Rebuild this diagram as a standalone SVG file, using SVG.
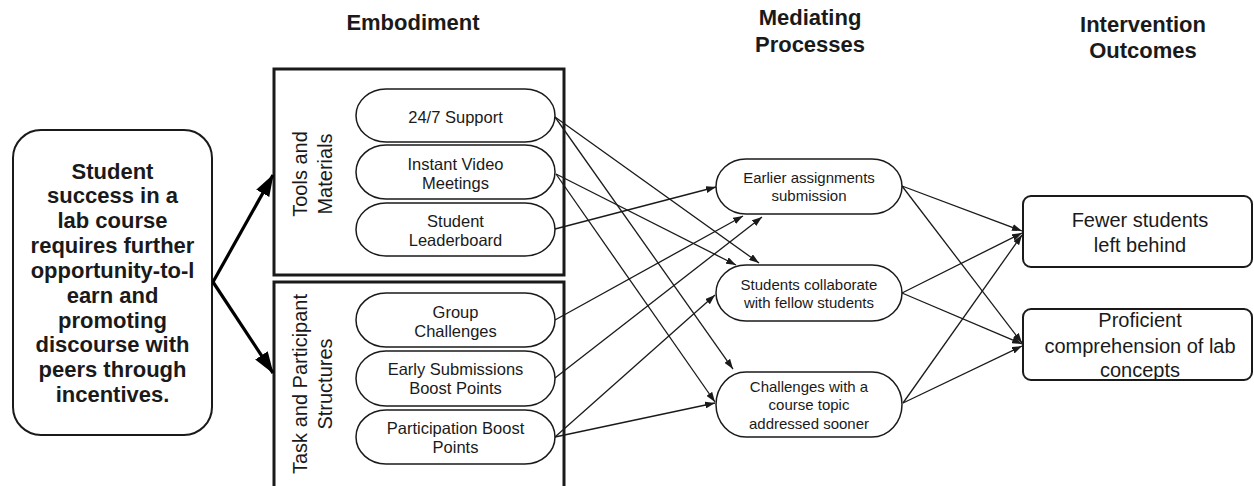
<svg xmlns="http://www.w3.org/2000/svg" width="1254" height="486" viewBox="0 0 1254 486">
<defs>
<style>
text{font-family:"Liberation Sans",Arial,sans-serif;fill:#1a1a1a;text-anchor:middle}
.title{font-size:22px;font-weight:bold}
.lead{font-size:22px;font-weight:bold}
.pill{fill:#fff;stroke:#1a1a1a;stroke-width:1.5}
.pt{font-size:16.5px}
.mt{font-size:15px}
.ot{font-size:20px}
.lab{font-size:20px}
.frame{fill:#fff;stroke:#1a1a1a;stroke-width:3}
.conn line{stroke:#1a1a1a;stroke-width:1.3;marker-end:url(#ah)}
.big{stroke:#000;stroke-width:3.2;marker-end:url(#bh)}
</style>
<marker id="ah" markerUnits="userSpaceOnUse" markerWidth="10" markerHeight="7" refX="10" refY="3.5" orient="auto"><path d="M0,0 L10,3.5 L0,7 z" fill="#1a1a1a"/></marker>
<marker id="bh" markerUnits="userSpaceOnUse" markerWidth="22" markerHeight="15" refX="21" refY="7.5" orient="auto"><path d="M0,0 L22,7.5 L0,15 z" fill="#000"/></marker>
</defs>
<rect width="1254" height="486" fill="#fff"/>

<g id="titles">
<text class="title" x="413" y="29.5">Embodiment</text>
<text class="title" x="810" y="25">Mediating</text>
<text class="title" x="810" y="51.5">Processes</text>
<text class="title" x="1143" y="31.7">Intervention</text>
<text class="title" x="1143" y="58.3">Outcomes</text>
</g>

<g id="problem">
<rect x="13" y="130" width="199" height="305" rx="28" fill="#fff" stroke="#1a1a1a" stroke-width="2"/>
<text class="lead" x="112.5" y="178.5">Student<tspan x="112.5" dy="24.85">success in a</tspan><tspan x="112.5" dy="24.85">lab course</tspan><tspan x="112.5" dy="24.85">requires further</tspan><tspan x="112.5" dy="24.85">opportunity-to-l</tspan><tspan x="112.5" dy="24.85">earn and</tspan><tspan x="112.5" dy="24.85">promoting</tspan><tspan x="112.5" dy="24.85">discourse with</tspan><tspan x="112.5" dy="24.85">peers through</tspan><tspan x="112.5" dy="24.85">incentives.</tspan></text>
</g>

<g id="tools">
<rect class="frame" x="274" y="69" width="290" height="206"/>
<text class="lab" transform="translate(307,174) rotate(-90)">Tools and<tspan x="0" dy="25">Materials</tspan></text>
</g>
<g id="task">
<rect class="frame" x="274" y="282" width="290" height="220"/>
<text class="lab" transform="translate(307,384) rotate(-90)">Task and Participant<tspan x="0" dy="25">Structures</tspan></text>
</g>

<g id="support">
<rect class="pill" x="356" y="89" width="199" height="53" rx="30" ry="26.5"/>
<text class="pt" x="455.5" y="122.7">24/7 Support</text>
</g>
<g id="video">
<rect class="pill" x="356" y="145" width="199" height="54" rx="30" ry="27"/>
<text class="pt" x="455.5" y="170">Instant Video<tspan x="455.5" dy="18.8">Meetings</tspan></text>
</g>
<g id="leaderboard">
<rect class="pill" x="356" y="203" width="199" height="53" rx="30" ry="26.5"/>
<text class="pt" x="455.5" y="227">Student<tspan x="455.5" dy="19">Leaderboard</tspan></text>
</g>
<g id="group">
<rect class="pill" x="356" y="293" width="199" height="54" rx="30" ry="27"/>
<text class="pt" x="455.5" y="317.7">Group<tspan x="455.5" dy="19">Challenges</tspan></text>
</g>
<g id="early">
<rect class="pill" x="356" y="351" width="199" height="55" rx="30" ry="27.5"/>
<text class="pt" x="455.5" y="375.3">Early Submissions<tspan x="455.5" dy="19">Boost Points</tspan></text>
</g>
<g id="participation">
<rect class="pill" x="356" y="410" width="199" height="54" rx="30" ry="27"/>
<text class="pt" x="455.5" y="434.3">Participation Boost<tspan x="455.5" dy="18.5">Points</tspan></text>
</g>

<g id="earlier">
<rect class="pill" x="716" y="159" width="186" height="55" rx="30" ry="27.5"/>
<text class="mt" x="809" y="182.7">Earlier assignments<tspan x="809" dy="18.7">submission</tspan></text>
</g>
<g id="collab">
<rect class="pill" x="716" y="265" width="186" height="56" rx="30" ry="28"/>
<text class="mt" x="809" y="289.7">Students collaborate<tspan x="809" dy="18">with fellow students</tspan></text>
</g>
<g id="challenges">
<rect class="pill" x="716" y="372" width="186" height="65" rx="30" ry="32.5"/>
<text class="mt" x="809" y="392">Challenges with a<tspan x="809" dy="18.3">course topic</tspan><tspan x="809" dy="18.3">addressed sooner</tspan></text>
</g>

<g id="fewer">
<rect x="1023" y="196" width="229" height="71" rx="8" fill="#fff" stroke="#1a1a1a" stroke-width="2"/>
<text class="ot" x="1140" y="227.2">Fewer students<tspan x="1140" dy="25">left behind</tspan></text>
</g>
<g id="proficient">
<rect x="1023" y="309" width="229" height="71" rx="8" fill="#fff" stroke="#1a1a1a" stroke-width="2"/>
<text class="ot" x="1140" y="327.2">Proficient<tspan x="1140" dy="25.3">comprehension of lab</tspan><tspan x="1140" dy="24.5">concepts</tspan></text>
</g>

<g id="connectors" class="conn">
<line class="big" x1="213" y1="282" x2="273" y2="175" style="stroke:#000;stroke-width:3.2;marker-end:url(#bh)"/>
<line class="big" x1="213" y1="282" x2="273" y2="373" style="stroke:#000;stroke-width:3.2;marker-end:url(#bh)"/>
<line x1="555" y1="117" x2="759" y2="263"/>
<line x1="555" y1="117" x2="733" y2="369"/>
<line x1="556" y1="174" x2="736" y2="265"/>
<line x1="556" y1="174" x2="715" y2="402"/>
<line x1="555" y1="229" x2="716" y2="187"/>
<line x1="555" y1="320" x2="743" y2="216"/>
<line x1="555" y1="378" x2="762" y2="217"/>
<line x1="555" y1="437" x2="715" y2="295"/>
<line x1="555" y1="437" x2="715" y2="403"/>
<line x1="902" y1="186" x2="1022" y2="231"/>
<line x1="902" y1="186" x2="1022" y2="343"/>
<line x1="902" y1="293" x2="1022" y2="233"/>
<line x1="902" y1="293" x2="1022" y2="344"/>
<line x1="903" y1="403" x2="1022" y2="235"/>
<line x1="903" y1="403" x2="1022" y2="346"/>
</g>
</svg>
